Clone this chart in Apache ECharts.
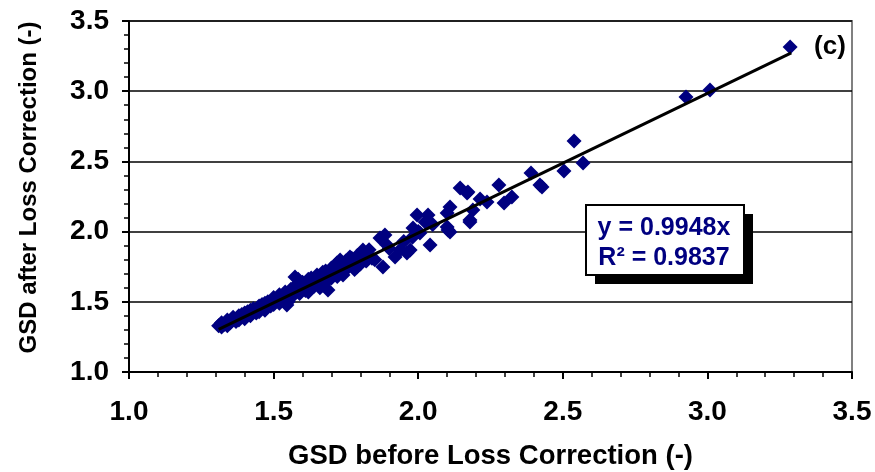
<!DOCTYPE html>
<html>
<head>
<meta charset="utf-8">
<title>GSD loss correction</title>
<script src="https://cdn.jsdelivr.net/npm/echarts@6/dist/echarts.min.js"></script>
<style>
  html, body { margin: 0; padding: 0; background: #fff; }
  #chart { width: 875px; height: 472px; }
</style>
</head>
<body>
<div id="chart"></div>
<script>
// GSD before loss correction (x) and after loss correction (y)
var gsdBefore = [
  1.31, 1.32, 1.32, 1.33, 1.34, 1.34, 1.35, 1.36, 1.36, 1.37, 1.38, 1.38, 1.39, 1.40, 1.40,
  1.41, 1.42, 1.42, 1.43, 1.44, 1.45, 1.45, 1.46, 1.47, 1.47, 1.48, 1.49, 1.50, 1.50, 1.51,
  1.52, 1.52, 1.53, 1.54, 1.55, 1.55, 1.56, 1.57, 1.57, 1.58, 1.59, 1.60, 1.60, 1.61, 1.62,
  1.62, 1.63, 1.64, 1.65, 1.65, 1.66, 1.67, 1.67, 1.68, 1.69, 1.70, 1.70, 1.71, 1.72, 1.72,
  1.73, 1.74, 1.75, 1.75, 1.76, 1.77, 1.78, 1.79, 1.80, 1.81, 1.82, 1.83, 1.84, 1.85,
  1.546, 1.688, 1.574, 1.585, 1.62, 1.66, 1.74, 1.78,
  1.719, 1.730, 1.764, 1.788, 1.809, 1.823, 1.878, 1.868, 1.885, 1.892, 1.920, 1.937,
  1.961, 1.972, 1.982, 1.996, 2.006, 2.024, 2.034, 2.041, 2.100, 2.103, 2.110, 2.110,
  1.90, 1.95, 1.98, 2.00, 2.05,
  2.100, 2.145, 2.169, 2.172, 2.179, 2.179, 2.189, 2.214, 2.238, 2.279, 2.297, 2.324,
  2.390, 2.421, 2.428, 2.504, 2.539, 2.570, 2.926, 3.009, 3.286
];
var gsdAfter = [
  1.33, 1.32, 1.35, 1.34, 1.33, 1.37, 1.35, 1.38, 1.39, 1.36, 1.40, 1.37, 1.41, 1.38, 1.42,
  1.43, 1.40, 1.44, 1.45, 1.42, 1.47, 1.43, 1.48, 1.49, 1.44, 1.50, 1.47, 1.53, 1.48, 1.52,
  1.55, 1.49, 1.54, 1.57, 1.53, 1.50, 1.59, 1.60, 1.55, 1.62, 1.56, 1.64, 1.59, 1.58, 1.66,
  1.60, 1.67, 1.61, 1.69, 1.63, 1.64, 1.71, 1.62, 1.72, 1.66, 1.74, 1.67, 1.75, 1.72, 1.68,
  1.77, 1.71, 1.79, 1.73, 1.77, 1.81, 1.76, 1.83, 1.77, 1.85, 1.79, 1.87, 1.81, 1.80,
  1.477, 1.584, 1.677, 1.66, 1.57, 1.60, 1.69, 1.73,
  1.776, 1.798, 1.819, 1.748, 1.869, 1.798, 1.748, 1.954, 1.976, 1.905, 1.819, 1.869,
  1.848, 1.869, 2.026, 2.118, 1.990, 2.068, 2.118, 1.905, 2.033, 2.011, 2.175, 1.997,
  1.88, 1.93, 1.96, 2.00, 2.05,
  2.132, 2.311, 2.275, 2.282, 2.083, 2.068, 2.154, 2.232, 2.211, 2.332, 2.204, 2.246,
  2.417, 2.332, 2.318, 2.432, 2.645, 2.489, 2.959, 3.009, 3.315
];
var axisTicks = ['1.0', '1.5', '2.0', '2.5', '3.0', '3.5'];

// Linear fit through the origin
var fitSlope = 0.9948;
var fitR2 = 0.9837;
var fitRange = [1.31, 3.29];

var points = gsdBefore.map(function (x, i) { return [x, gsdAfter[i]]; });
var fitLine = fitRange.map(function (x) { return [x, fitSlope * x]; });

var navy = '#000080';
var font = '"Liberation Sans", Arial, sans-serif';

function valueAxis(name, nameGap, nameSize, namePadding, labelMargin, isY) {
  return {
    type: 'value',
    min: 1,
    max: 3.5,
    interval: 0.5,
    name: name,
    nameLocation: 'middle',
    nameGap: nameGap,
    nameTextStyle: {
      fontFamily: font, fontWeight: 'bold', fontSize: nameSize, color: '#000',
      padding: namePadding
    },
    axisLine: { show: true, onZero: false, lineStyle: { color: '#000', width: 2 } },
    axisTick: { show: true, inside: false, length: 7, lineStyle: { color: '#000', width: 2 } },
    minorTick: { show: true, splitNumber: 5, length: 5, lineStyle: { color: '#000', width: 1.5 } },
    axisLabel: {
      margin: labelMargin,
      fontFamily: font, fontWeight: 'bold', fontSize: 28, color: '#000',
      formatter: function (v) { return axisTicks[Math.round((v - 1) / 0.5)]; }
    },
    splitLine: { show: isY, lineStyle: { color: '#000', width: 1.5 } }
  };
}

var chart = echarts.init(document.getElementById('chart'), null, { renderer: 'canvas' });
chart.setOption({
  animation: false,
  backgroundColor: '#fff',
  grid: {
    left: 129, right: 23, top: 21, bottom: 100,
    containLabel: false,
    outerBoundsMode: 'none',
    show: true, borderColor: '#808080', borderWidth: 2, backgroundColor: 'transparent'
  },
  xAxis: valueAxis('GSD before Loss Correction (-)', 70, 27.5, 0, 26, false),
  yAxis: valueAxis('GSD after Loss Correction (-)', 88, 24, [0, 0, 0, 18], 20, true),
  series: [
    {
      type: 'scatter',
      data: points,
      symbol: 'diamond',
      symbolSize: 15,
      itemStyle: { color: navy, opacity: 1 },
      z: 3
    },
    {
      type: 'line',
      data: fitLine,
      symbol: 'none',
      lineStyle: { color: '#000', width: 3 },
      z: 4
    }
  ],
  graphic: [
    {
      type: 'rect',
      shape: { x: 595, y: 214, width: 158, height: 70 },
      style: { fill: '#000' },
      z: 10
    },
    {
      type: 'rect',
      shape: { x: 586, y: 205, width: 158, height: 70 },
      style: { fill: '#fff', stroke: '#000', lineWidth: 2 },
      z: 11
    },
    {
      type: 'text',
      x: 664, y: 228,
      style: {
        text: 'y = ' + fitSlope.toFixed(4) + 'x',
        fontFamily: font, fontWeight: 'bold', fontSize: 25, fill: navy,
        align: 'center', verticalAlign: 'middle'
      },
      z: 12
    },
    {
      type: 'text',
      x: 664, y: 258,
      style: {
        text: 'R² = ' + fitR2.toFixed(4),
        fontFamily: font, fontWeight: 'bold', fontSize: 25, fill: navy,
        align: 'center', verticalAlign: 'middle'
      },
      z: 12
    },
    {
      type: 'text',
      x: 830, y: 47,
      style: {
        text: '(c)',
        fontFamily: font, fontWeight: 'bold', fontSize: 26, fill: '#000',
        align: 'center', verticalAlign: 'middle'
      },
      z: 12
    }
  ]
});
</script>
</body>
</html>
